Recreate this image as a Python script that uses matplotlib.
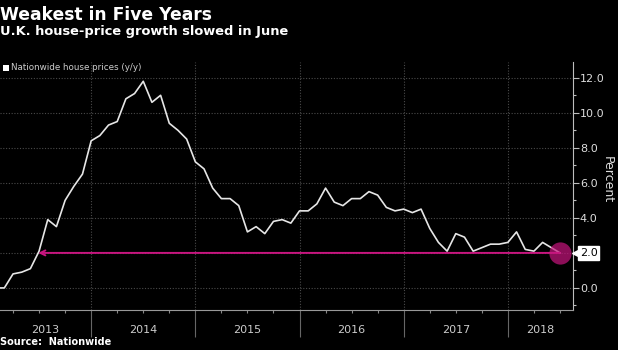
import numpy as np
import matplotlib
matplotlib.use('Agg')
import matplotlib.pyplot as plt
from matplotlib.patches import Rectangle
from matplotlib.transforms import blended_transform_factory

# ==============================
# Data (Nationwide house prices, y/y %, month-end)
# ==============================
start_year = 2013
values = [
    0.0, 0.0, 0.8, 0.9, 1.1, 2.1, 3.9, 3.5, 5.0, 5.8, 6.5, 8.4,      # 2013
    8.7, 9.3, 9.5, 10.8, 11.1, 11.8, 10.6, 11.0, 9.4, 9.0, 8.5, 7.2,  # 2014
    6.8, 5.7, 5.1, 5.1, 4.7, 3.2, 3.5, 3.1, 3.8, 3.9, 3.7, 4.4,      # 2015
    4.4, 4.8, 5.7, 4.9, 4.7, 5.1, 5.1, 5.5, 5.3, 4.6, 4.4, 4.5,      # 2016
    4.3, 4.5, 3.4, 2.6, 2.1, 3.1, 2.9, 2.1, 2.3, 2.5, 2.5, 2.6,      # 2017
    3.2, 2.2, 2.1, 2.6, 2.3, 2.0,                                    # 2018
]
years = [2013, 2014, 2015, 2016, 2017, 2018]
y_ticks = [0.0, 2.0, 4.0, 6.0, 8.0, 10.0, 12.0]

title = 'Weakest in Five Years'
subtitle = 'U.K. house-price growth slowed in June'
legend_label = 'Nationwide house prices (y/y)'
source = 'Source:  Nationwide'

# month-end positions as fractional years
t = start_year + (np.arange(len(values)) + 1) / 12.0
v = np.array(values)

BG = 'black'
LINE = '#e6e6e6'
GRID = '#4a4a4a'
AXC = '#bdbdbd'
MAGENTA = '#c8157f'

x_left, x_right = 2013.125, 2018.624
y_bot, y_top = -1.26, 12.91

fig = plt.figure(figsize=(6.18, 3.5), dpi=100, facecolor=BG)
ax = fig.add_axes([0.0, 0.1143, 0.927, 0.709], facecolor=BG)

# grid
for yv in y_ticks:
    ax.axhline(yv, color=GRID, lw=0.8, ls=(0, (1, 1.5)), zorder=1)
for yr in years[1:]:
    ax.axvline(yr, color=GRID, lw=0.8, ls=(0, (1, 1.5)), zorder=1)

# series
ax.plot(t, v, color=LINE, lw=1.2, zorder=3)

# "weakest since" arrow: find where series last crossed the latest value
last_t, last_v = t[-1], v[-1]
idx = np.where(v[:-1] < last_v)[0]
i = idx[idx < np.argmax(v)][-1]
frac = (last_v - v[i]) / (v[i + 1] - v[i])
cross_t = t[i] + frac * (t[i + 1] - t[i])
ax.annotate('', xy=(cross_t, last_v), xytext=(last_t, last_v),
            arrowprops=dict(arrowstyle='->', color=MAGENTA, lw=1.4,
                            shrinkA=0, shrinkB=0, mutation_scale=9),
            zorder=4)
ax.plot(last_t, last_v, 'o', ms=16, color=MAGENTA, alpha=0.7,
        markeredgewidth=0, zorder=5)

# axes limits and ticks
ax.set_xlim(x_left, x_right)
ax.set_ylim(y_bot, y_top)

ax.set_xticks(years[1:])
ax.set_xticklabels([])
quarters = [yr + q for yr in range(2012, 2019) for q in (0.25, 0.5, 0.75)]
ax.set_xticks([q for q in quarters if x_left < q < x_right], minor=True)
ax.tick_params(axis='x', which='major', length=19.5, width=0.8, color='#666666')
ax.tick_params(axis='x', which='minor', length=2.5, width=0.8, color='#888888')

ax.yaxis.tick_right()
ax.set_yticks(y_ticks)
ax.set_yticklabels(['' if yv == last_v else f'{yv:.1f}' for yv in y_ticks])
ax.set_yticks(np.arange(-1, 13, 1.0), minor=True)
ax.tick_params(axis='y', which='major', length=4, width=0.8, color=AXC,
               labelcolor='#dddddd', labelsize=8, pad=1)
ax.tick_params(axis='y', which='minor', length=2.5, width=0.8, color=AXC)

for side in ('top', 'left'):
    ax.spines[side].set_visible(False)
ax.spines['right'].set_color(AXC)
ax.spines['bottom'].set_color('#999999')
ax.spines['right'].set_linewidth(0.8)
ax.spines['bottom'].set_linewidth(0.8)

# axis title on the right
fig.text(607 / 618, 1 - 180 / 350, 'Percent', rotation=270, ha='center',
         va='center', fontsize=9, color='#dddddd')

# last value tag
ytrans = ax.get_yaxis_transform()
ax.text(1.012, last_v, f'{last_v:.1f}', transform=ytrans, ha='left', va='center',
        fontsize=8, color='black', zorder=6, clip_on=False,
        bbox=dict(boxstyle='square,pad=0.15', fc='white', ec='white'))
ax.plot([1.006], [last_v], marker='<', ms=6, color='white', mec='white',
        transform=ytrans, clip_on=False, zorder=6)

# year labels centred in the visible part of each year
xtrans = blended_transform_factory(ax.transData, fig.transFigure)
for yr in years:
    lo, hi = max(yr, x_left), min(yr + 1, x_right)
    ax.text((lo + hi) / 2, 0.057, str(yr), transform=xtrans, ha='center',
            va='center', fontsize=8, color='#cccccc')

# titles, legend, source
fig.text(0.0, 1 - 15 / 350, title, ha='left', va='center', fontsize=12.3,
         fontweight='bold', color='white')
fig.text(0.0, 1 - 32 / 350, subtitle, ha='left', va='center', fontsize=9.4,
         fontweight='bold', color='white')
fig.patches.append(Rectangle((3 / 618, 1 - 71 / 350), 6 / 618, 6 / 350,
                             transform=fig.transFigure, fc='white', ec='none'))
fig.text(11 / 618, 1 - 68 / 350, legend_label, ha='left', va='center',
         fontsize=6.3, color='#cccccc')
fig.text(0.0, 1 - 342 / 350, source, ha='left', va='center', fontsize=7,
         fontweight='bold', color='white')

fig.savefig('out.png', dpi=100, facecolor=BG)
